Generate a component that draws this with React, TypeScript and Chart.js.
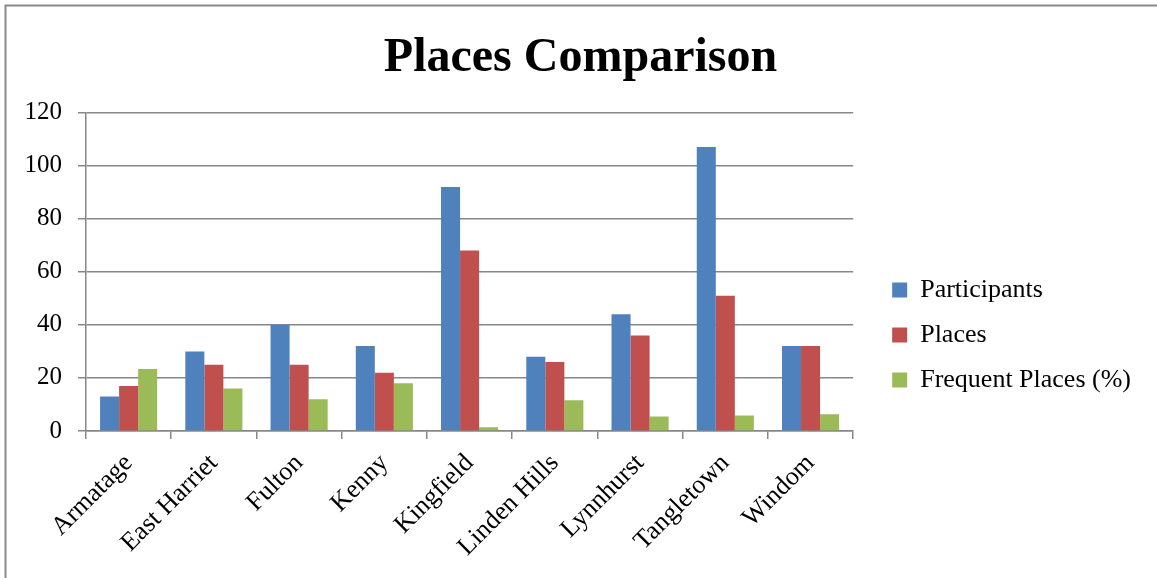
import { useEffect, useRef } from 'react';
import { Chart, registerables } from 'chart.js';

Chart.register(...registerables);

const categories = ['Armatage', 'East Harriet', 'Fulton', 'Kenny', 'Kingfield', 'Linden Hills', 'Lynnhurst', 'Tangletown', 'Windom'];
const participants = [13, 30, 40, 32, 92, 28, 44, 107, 32];
const places = [17, 25, 25, 22, 68, 26, 36, 51, 32];
const frequentPlaces = [23.4, 16, 12, 18, 1.4, 11.6, 5.5, 5.8, 6.3];
const yMin = 0;
const yMax = 120;
const yStep = 20;

const SERIF = "'Liberation Serif', 'Times New Roman', serif";
const GRID = '#878787';

const outerBorder = {
  id: 'outerBorder',
  beforeDraw(chart: any) {
    const { ctx, width, height } = chart;
    ctx.save();
    ctx.fillStyle = '#ffffff';
    ctx.fillRect(0, 0, width, height);
    ctx.strokeStyle = '#8a8a8a';
    ctx.lineWidth = 2;
    ctx.beginPath();
    ctx.moveTo(5.5, height);
    ctx.lineTo(5.5, 5.5);
    ctx.lineTo(width, 5.5);
    ctx.stroke();
    ctx.restore();
  },
};

const boxPlace = {
  id: 'boxPlace',
  afterLayout(chart: any) {
    const lg = chart.legend;
    if (lg) {
      lg.left += 20;
      lg.right += 20;
      lg.top += 46;
      lg.bottom += 46;
    }
    const tb = chart.titleBlock;
    if (tb) {
      tb.left += 20;
      tb.right += 20;
      tb.top += 3;
      tb.bottom += 3;
    }
  },
};

export default function App() {
  const ref = useRef<HTMLCanvasElement | null>(null);

  useEffect(() => {
    if (!ref.current) return;
    const chart = new Chart(ref.current, {
      type: 'bar',
      data: {
        labels: categories,
        datasets: [
          { label: 'Participants', data: participants, backgroundColor: '#4F81BD' },
          { label: 'Places', data: places, backgroundColor: '#C0504D' },
          { label: 'Frequent Places (%)', data: frequentPlaces, backgroundColor: '#9BBB59' },
        ],
      },
      options: {
        animation: false,
        responsive: false,
        maintainAspectRatio: false,
        datasets: { bar: { categoryPercentage: 0.67, barPercentage: 1.0 } },
        layout: { padding: { left: 0, right: 36, top: 0, bottom: 0 } },
        plugins: {
          tooltip: { enabled: false },
          title: {
            display: true,
            text: 'Places Comparison',
            color: '#000',
            font: { family: SERIF, size: 48, weight: 'bold' },
            padding: { top: 27, bottom: 28 },
          },
          legend: {
            position: 'right',
            align: 'center',
            labels: {
              color: '#000',
              font: { family: SERIF, size: 26 },
              boxWidth: 15,
              boxHeight: 15,
              padding: 19,
            },
          },
        },
        scales: {
          x: {
            grid: { drawOnChartArea: false, offset: true, tickLength: 8, color: GRID, lineWidth: 1.5 },
            border: { display: true, color: GRID, width: 1.5 },
            ticks: {
              color: '#000',
              font: { family: SERIF, size: 26 },
              maxRotation: 45,
              minRotation: 45,
              autoSkip: false,
              padding: 9,
            },
            afterFit(scale: any) {
              scale.height = 147;
            },
          },
          y: {
            min: yMin,
            max: yMax,
            ticks: { stepSize: yStep, color: '#000', font: { family: SERIF, size: 25 }, padding: 16 },
            grid: { color: GRID, lineWidth: 1.5, tickLength: 8 },
            border: { display: true, color: GRID, width: 1.5 },
            afterFit(scale: any) {
              scale.width = 86;
            },
          },
        },
      },
      plugins: [outerBorder, boxPlace],
    });
    return () => chart.destroy();
  }, []);

  return (
    <div style={{ position: 'fixed', left: 0, top: 0, width: 1157, height: 578, background: '#fff' }}>
      <canvas ref={ref} width={1157} height={578} style={{ display: 'block', width: 1157, height: 578 }} />
    </div>
  );
}
